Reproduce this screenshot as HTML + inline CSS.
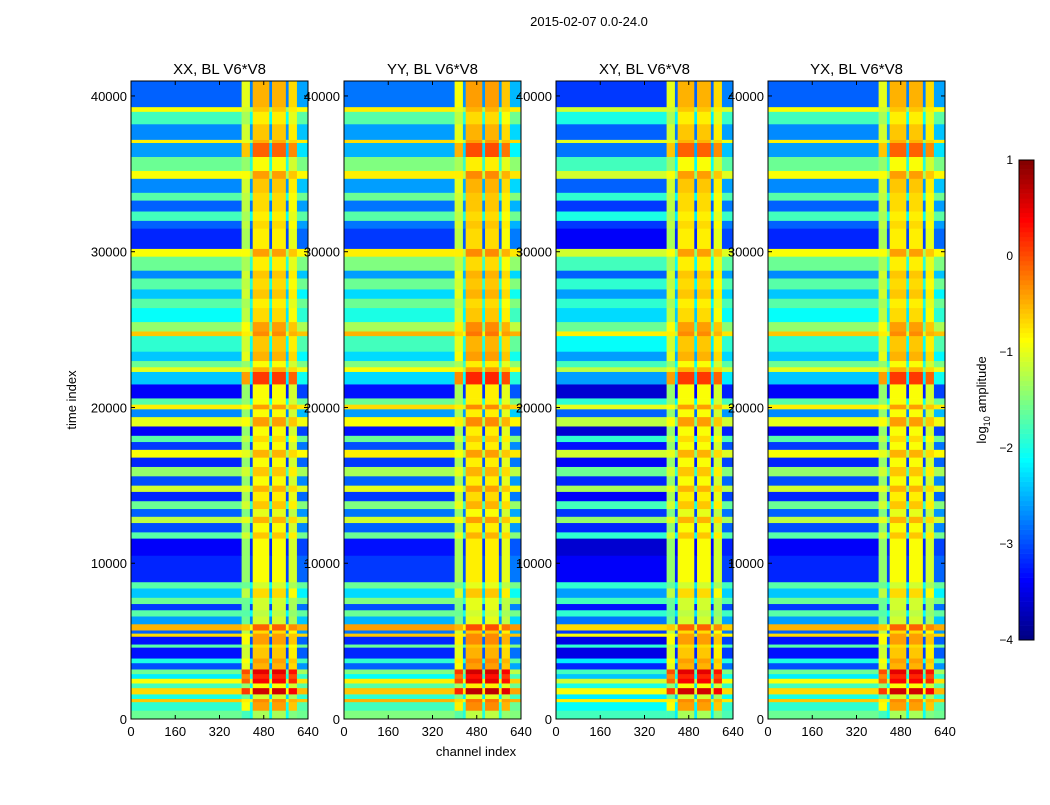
<!DOCTYPE html>
<html><head><meta charset="utf-8"><style>
body{margin:0;background:#fff;}
svg text{font-family:"Liberation Sans",sans-serif;}
</style></head><body>
<svg id="fig" width="1050" height="800" viewBox="0 0 1050 800">
<rect width="1050" height="800" fill="#fff"/>
<text x="589" y="26" font-size="13" text-anchor="middle">2015-02-07 0.0-24.0</text>
<text transform="translate(76,400) rotate(-90)" font-size="13" text-anchor="middle">time index</text>
<text x="476" y="756" font-size="13" text-anchor="middle">channel index</text>
<g id="panels"></g>
<g id="cbar"></g>
</svg>
<script>
const panelTitles = ["XX, BL V6*V8","YY, BL V6*V8","XY, BL V6*V8","YX, BL V6*V8"];
const panelLeftShift = [-0.4, -0.3, -0.6, -0.4];
const panelRightShift = [-0.3, -0.2, -0.3, -0.3];
const bandStart = [0,550,1100,1300,1600,2000,2300,2600,2900,3200,3600,3900,4600,4800,5300,5500,5700,6100,6600,7000,7400,7800,8400,8800,10500,11600,12000,12600,13000,13500,14000,14600,15000,15600,16200,16800,17300,17800,18200,18800,19400,19900,20200,20600,21500,22300,22600,23000,23600,24600,24900,25500,26400,27000,27600,28300,28800,29700,30200,31500,32000,32600,33300,33800,34700,35200,36100,37000,37200,38200,39000,39300];
const bandLeft = [-1.2,-1.5,-0.2,-1.6,-0.3,-1.4,-0.5,-1.8,-1.2,-2.6,-1.6,-2.9,-1.3,-2.9,-0.3,-2.5,-0.1,-2.2,-1.3,-2.7,-1.2,-2.0,-1.3,-2.8,-3.0,-1.3,-2.6,-0.8,-2.5,-1.2,-2.8,-0.7,-2.6,-1.0,-2.8,-0.5,-2.7,-1.3,-3.0,-0.6,-2.3,-0.4,-1.3,-3.0,-2.0,-0.6,-1.2,-2.0,-1.5,-0.2,-1.0,-1.7,-1.3,-2.0,-1.3,-2.3,-1.2,-0.5,-2.8,-2.5,-1.4,-2.5,-1.3,-2.3,-0.5,-1.2,-2.2,-0.4,-2.3,-1.4,-0.5,-2.5];
const bandRight = [-1.2,-0.3,-0.2,-1.0,0.7,-0.8,0.5,0.3,0.6,-0.4,-0.3,-0.5,-0.6,-0.3,-0.3,-0.6,0.0,-1.0,-1.1,-1.0,-1.0,-0.6,-1.0,-0.8,-0.8,-0.5,-0.8,-0.4,-0.9,-0.5,-0.7,-0.4,-0.8,-0.5,-0.8,-0.4,-0.8,-0.6,-0.8,-0.3,-0.8,-0.3,-0.8,-0.8,0.2,-0.4,-0.8,-0.4,-0.5,-0.2,-0.3,-0.6,-0.7,-0.5,-0.6,-0.5,-0.7,-0.3,-0.7,-0.6,-0.7,-0.6,-0.6,-0.5,-0.3,-0.8,0.0,-0.4,-0.5,-0.7,-0.5,-0.4];
const segStart = [0,400,430,440,500,510,560,570,600];
const segWeight = [0,1,0.3,1,0.3,1,0.3,1,0.15];
const segOffset = [0,-0.3,-0.5,0.2,-0.5,0.2,-0.5,0,0];
const xTicks = [0,160,320,480,640];
const yTicks = [0,10000,20000,30000,40000];
const cbTicks = [1,0,-1,-2,-3,-4];
const TMAX = 40960, CMAX = 640, VMIN = -4, VMAX = 1;
const panelX = [131,344,556,768], PW = 177, PT = 81, PB = 719;
const NS = "http://www.w3.org/2000/svg";
function jet(v){
  let t = Math.max(0, Math.min(1, (v - VMIN) / (VMAX - VMIN)));
  const f = x => Math.max(0, Math.min(1, x));
  const r = f(1.5 - Math.abs(4*t - 3)), g = f(1.5 - Math.abs(4*t - 2)), b = f(1.5 - Math.abs(4*t - 1));
  return `rgb(${Math.round(r*255)},${Math.round(g*255)},${Math.round(b*255)})`;
}
function mk(tag, attrs, parent){
  const e = document.createElementNS(NS, tag);
  for (const k in attrs) e.setAttribute(k, attrs[k]);
  parent.appendChild(e); return e;
}
const yS = t => PB - (t / TMAX) * (PB - PT);
const panels = document.getElementById('panels');
panelTitles.forEach((title, p) => {
  const x0 = panelX[p];
  const xS = c => x0 + (c / CMAX) * PW;
  const g = mk('g', {}, panels);
  
  
  bandStart.forEach((bs, i) => {
    const be = i + 1 < bandStart.length ? bandStart[i+1] : TMAX;
    const L = bandLeft[i] + panelLeftShift[p], R = bandRight[i] + panelRightShift[p];
    segStart.forEach((ss, j) => {
      const se = j + 1 < segStart.length ? segStart[j+1] : CMAX;
      const v = L + segWeight[j] * (R - L) + (segWeight[j] > 0 ? segOffset[j] : 0);
      const r = mk('rect', {x: xS(ss), y: yS(be), width: xS(se) - xS(ss) + 0.3, height: yS(bs) - yS(be) + 0.3, fill: jet(v)}, g);
      
      
    });
  });
  const fr = mk('rect', {x: x0, y: PT, width: PW, height: PB - PT, fill: 'none', stroke: '#000', 'stroke-width': 1}, g);
  
  
  const tt = mk('text', {x: x0 + PW/2, y: 74, 'font-size': 15, 'text-anchor': 'middle'}, g);
  tt.textContent = title;
  
  
  xTicks.forEach(c => {
    const x = xS(c);
    mk('line', {x1: x, x2: x, y1: PB, y2: PB - 4, stroke: '#000'}, g);
    mk('line', {x1: x, x2: x, y1: PT, y2: PT + 4, stroke: '#000'}, g);
    const t = mk('text', {x: x, y: 736, 'font-size': 13, 'text-anchor': 'middle'}, g);
    t.textContent = c;
    
    
  });
  yTicks.forEach(v => {
    const y = yS(v);
    mk('line', {x1: x0, x2: x0 + 4, y1: y, y2: y, stroke: '#000'}, g);
    mk('line', {x1: x0 + PW, x2: x0 + PW - 4, y1: y, y2: y, stroke: '#000'}, g);
    const t = mk('text', {x: x0 - 4, y: y + 5, 'font-size': 13, 'text-anchor': 'end'}, g);
    t.textContent = v;
    
    
  });
});
const cb = document.getElementById('cbar');


const CBX = 1019, CBW = 15, CBT = 160, CBB = 640;
const cbY = v => CBB - (v - VMIN) / (VMAX - VMIN) * (CBB - CBT);
for (let k = 0; k < 100; k++) {
  const v0 = VMIN + (VMAX - VMIN) * k / 100, v1 = VMIN + (VMAX - VMIN) * (k + 1) / 100;
  mk('rect', {x: CBX, y: cbY(v1), width: CBW, height: cbY(v0) - cbY(v1) + 0.3, fill: jet((v0 + v1) / 2)}, cb);
}
mk('rect', {x: CBX, y: CBT, width: CBW, height: CBB - CBT, fill: 'none', stroke: '#000'}, cb);
cbTicks.forEach(v => {
  const y = cbY(v);
  const t = mk('text', {x: 1013, y: y + 4, 'font-size': 12, 'text-anchor': 'end'}, cb);
  t.textContent = v < 0 ? '\u2212' + (-v) : String(v);
  
  
});
const cl = mk('text', {transform: 'translate(986,400) rotate(-90)', 'font-size': 13, 'text-anchor': 'middle'}, cb);
cl.innerHTML = 'log<tspan font-size="9" dy="4">10</tspan><tspan dy="-4"> amplitude</tspan>';


</script>
</body></html>
